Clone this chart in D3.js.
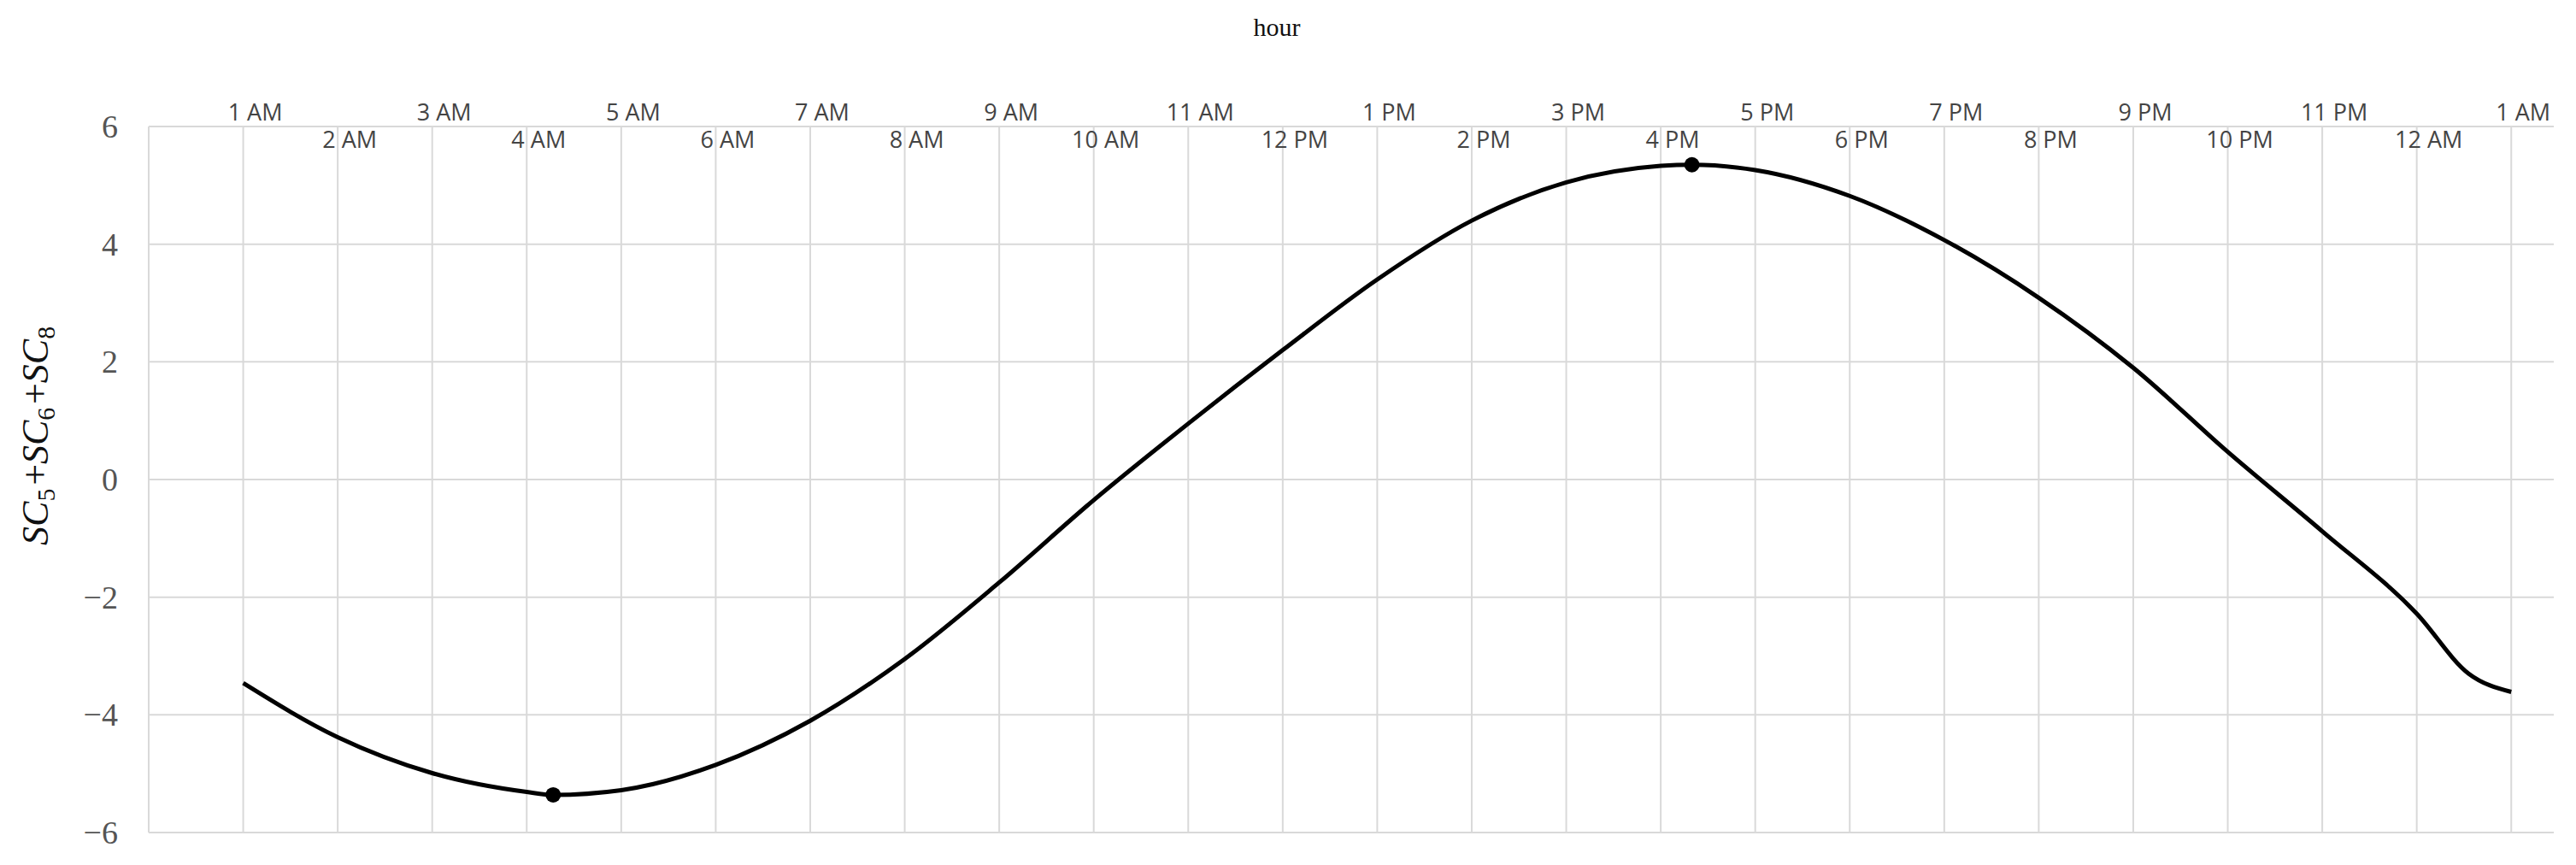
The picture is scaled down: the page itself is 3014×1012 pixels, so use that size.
<!DOCTYPE html>
<html><head><meta charset="utf-8">
<script src="https://cdnjs.cloudflare.com/ajax/libs/d3/7.8.5/d3.min.js"></script>
<style>body{margin:0;background:#fff}</style></head>
<body><svg id="c" width="3014" height="1012"></svg>
<script>
const hourTicks = d3.range(1, 26);
const tickLabels = ["1 AM","2 AM","3 AM","4 AM","5 AM","6 AM","7 AM","8 AM","9 AM","10 AM","11 AM","12 PM","1 PM","2 PM","3 PM","4 PM","5 PM","6 PM","7 PM","8 PM","9 PM","10 PM","11 PM","12 AM","1 AM"];
const hours  = [1,2,3,4,4.28,5,6,7,8,9,10,11,12,13,14,15,16,16.33,17,18,19,20,21,22,23,24,24.55,25];
const values = [-3.46,-4.38,-4.99,-5.31,-5.36,-5.28,-4.85,-4.1,-3.05,-1.75,-0.35,0.95,2.2,3.4,4.4,5.05,5.33,5.35,5.26,4.82,4.07,3.09,1.9,0.47,-0.88,-2.28,-3.3,-3.61];
const markerHours = [4.28, 16.33];
const markerValues = [-5.36, 5.35];
const yTicks = [-6,-4,-2,0,2,4,6];

const svg = d3.select("#c");
const L=174,R=2988,T=148,B=974;
const x = d3.scaleLinear().domain([0,25.45]).range([L,R]);
const y = d3.scaleLinear().domain([-6,6]).range([B,T]);
const g = svg.append("g");
g.selectAll(".hg").data(yTicks).join("line").attr("x1",L).attr("x2",R)
 .attr("y1",d=>y(d)).attr("y2",d=>y(d)).attr("stroke","#d9d9d9").attr("stroke-width",2);
g.selectAll(".vg").data(hourTicks).join("line").attr("y1",T).attr("y2",B)
 .attr("x1",d=>x(d)).attr("x2",d=>x(d)).attr("stroke","#d9d9d9").attr("stroke-width",2);
g.append("line").attr("x1",L).attr("x2",L).attr("y1",T).attr("y2",B).attr("stroke","#d9d9d9").attr("stroke-width",2);
g.selectAll(".xl").data(hourTicks).join("text")
 .attr("x",d=>x(d)+14).attr("y",(d,i)=>i%2===0?141:173).attr("text-anchor","middle")
 .attr("font-family","Open Sans, sans-serif").attr("font-size",27).attr("fill","#444")
 .text((d,i)=>tickLabels[i]);
g.selectAll(".yl").data(yTicks).join("text")
 .attr("x",138).attr("y",d=>y(d)+13).attr("text-anchor","end")
 .attr("font-family","Liberation Serif, serif").attr("font-size",38).attr("fill","#555")
 .text(d=>d<0?"\u2212"+Math.abs(d):d);
svg.append("text").attr("x",1494).attr("y",42).attr("text-anchor","middle")
 .attr("font-family","Liberation Serif, serif").attr("font-size",30).attr("fill","#111").text("hour");
const yl = svg.append("text").attr("transform","translate(56,508) rotate(-90)").attr("text-anchor","middle")
 .attr("font-family","Liberation Serif, serif").attr("font-size",44).attr("font-style","italic").attr("fill","#111");
[["SC","5"],["+",null],["SC","6"],["+",null],["SC","8"]].forEach(([a,s])=>{
  yl.append("tspan").text(a).attr("font-style",a==="+"?"normal":"italic");
  if(s){ yl.append("tspan").text(s).attr("font-size",30).attr("dy",8).attr("font-style","normal");
         yl.append("tspan").text("\u200a").attr("dy",-8); }
});
const line = d3.line().curve(d3.curveMonotoneX).x((d,i)=>x(hours[i])).y(d=>y(d));
svg.append("path").attr("d",line(values)).attr("fill","none").attr("stroke","#000").attr("stroke-width",5);
svg.selectAll(".m").data(markerValues).join("circle").attr("cx",(d,i)=>x(markerHours[i])).attr("cy",d=>y(d)).attr("r",9).attr("fill","#000");
</script></body></html>
